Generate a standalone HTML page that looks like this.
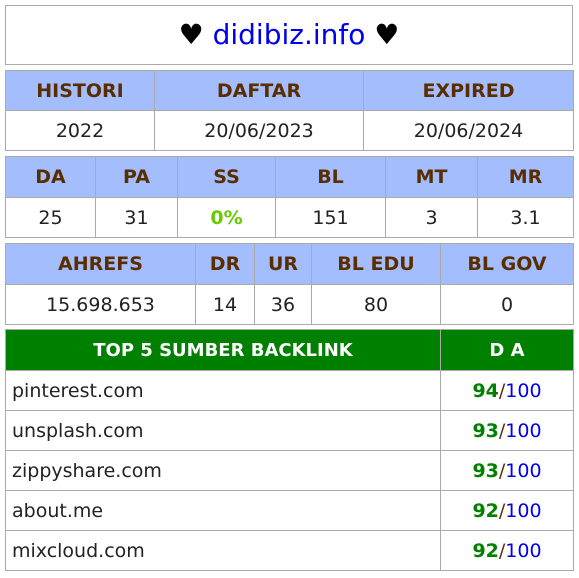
<!DOCTYPE html>
<html><head><meta charset="utf-8">
<style>
body{margin:0;background:#fff;font-family:"DejaVu Sans","Liberation Sans",sans-serif;}
.box{position:absolute;left:5px;width:566px;border:1px solid #aaa;}
table{position:absolute;left:5px;width:569px;border-collapse:collapse;table-layout:fixed;}
td{border:1px solid #aaa;text-align:center;font-size:19px;color:#222;padding:0;overflow:hidden;white-space:nowrap;}
tr{height:40px;}
.h td{background:#a4bdfc;color:#5a2d00;font-weight:bold;}
.g td{background:#008000;color:#fff;font-weight:bold;font-size:18px;}
.l{text-align:left;padding-left:6px;font-size:19px;}
.gr{color:#008000;font-weight:bold}.bl{color:#0000ee}.sl{color:#5a2d00}
</style></head><body>
<div class="box" style="top:5px;height:58px;text-align:center;line-height:58px;font-size:28px;">♥ <span style="color:#0000ee">didibiz.info</span> ♥</div>
<table style="top:70px">
<col style="width:149px"><col style="width:209px"><col style="width:210px">
<tr class="h"><td>HISTORI</td><td>DAFTAR</td><td>EXPIRED</td></tr>
<tr><td>2022</td><td>20/06/2023</td><td>20/06/2024</td></tr>
</table>
<table style="top:156px">
<col style="width:90px"><col style="width:82px"><col style="width:98px"><col style="width:110px"><col style="width:92px"><col style="width:96px">
<tr class="h" style="height:41px"><td>DA</td><td>PA</td><td>SS</td><td>BL</td><td>MT</td><td>MR</td></tr>
<tr><td>25</td><td>31</td><td style="color:#66cc00;font-weight:bold">0%</td><td>151</td><td>3</td><td>3.1</td></tr>
</table>
<table style="top:243px">
<col style="width:190px"><col style="width:59px"><col style="width:57px"><col style="width:129px"><col style="width:133px">
<tr class="h" style="height:41px"><td>AHREFS</td><td>DR</td><td>UR</td><td>BL EDU</td><td>BL GOV</td></tr>
<tr><td>15.698.653</td><td>14</td><td>36</td><td>80</td><td>0</td></tr>
</table>
<table style="top:329px">
<col style="width:435px"><col style="width:133px">
<tr class="g" style="height:41px"><td>TOP 5 SUMBER BACKLINK</td><td>D A</td></tr>
<tr><td class="l">pinterest.com</td><td><span class="gr">94</span><span class="sl">/</span><span class="bl">100</span></td></tr>
<tr><td class="l">unsplash.com</td><td><span class="gr">93</span><span class="sl">/</span><span class="bl">100</span></td></tr>
<tr><td class="l">zippyshare.com</td><td><span class="gr">93</span><span class="sl">/</span><span class="bl">100</span></td></tr>
<tr><td class="l">about.me</td><td><span class="gr">92</span><span class="sl">/</span><span class="bl">100</span></td></tr>
<tr><td class="l">mixcloud.com</td><td><span class="gr">92</span><span class="sl">/</span><span class="bl">100</span></td></tr>
</table>
</body></html>
